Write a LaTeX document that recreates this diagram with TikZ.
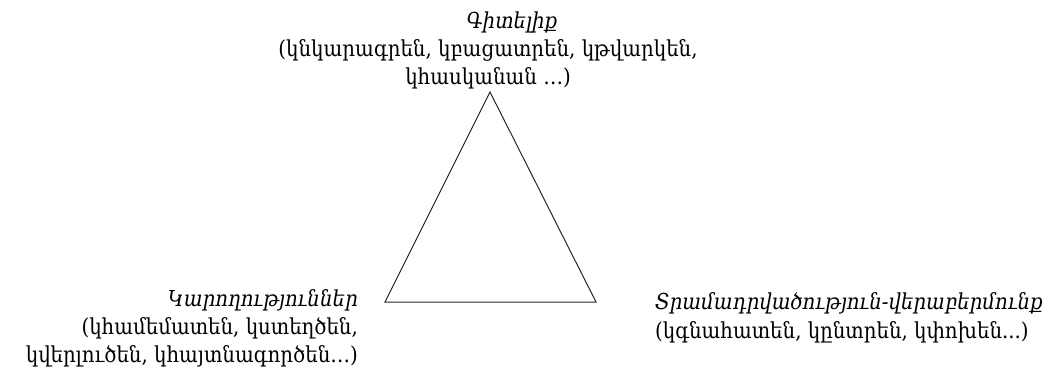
\documentclass[tikz,border=0pt]{standalone}
\usepackage{fontspec}
\setmainfont{DejaVu Serif Condensed}
\begin{document}
\begin{tikzpicture}[x=1pt,y=-1pt,
  lbl/.style={inner sep=0pt, font=\fontsize{22}{28}\selectfont},
  ttl/.style={lbl, font=\fontsize{22}{28}\selectfont\itshape},
  edge/.style={draw=black!85, line width=1pt, line join=miter}]
\useasboundingbox (0,0) rectangle (1057,378);
\coordinate (apex) at (490,92);
\coordinate (bl) at (385,302);
\coordinate (br) at (596,302);
\draw[edge] (apex) -- (bl) -- (br) -- cycle;
\node[ttl] (kt) at (512,22) {Գիտելիք};
\node[lbl, align=center] (kd) at (488,64) {(կնկարագրեն, կբացատրեն, կթվարկեն,\\կհասկանան …)};
\node[ttl, anchor=east] (lt) at (358,300) {Կարողություններ};
\node[lbl, align=right, anchor=east] (ld) at (358,342) {(կհամեմատեն, կստեղծեն,\\կվերլուծեն, կհայտնագործեն…)};
\node[ttl, anchor=west] (rt) at (655,303) {Տրամադրվածություն-վերաբերմունք};
\node[lbl, anchor=west] (rd) at (655,332) {(կգնահատեն, կընտրեն, կփոխեն...)};
\end{tikzpicture}
\end{document}
